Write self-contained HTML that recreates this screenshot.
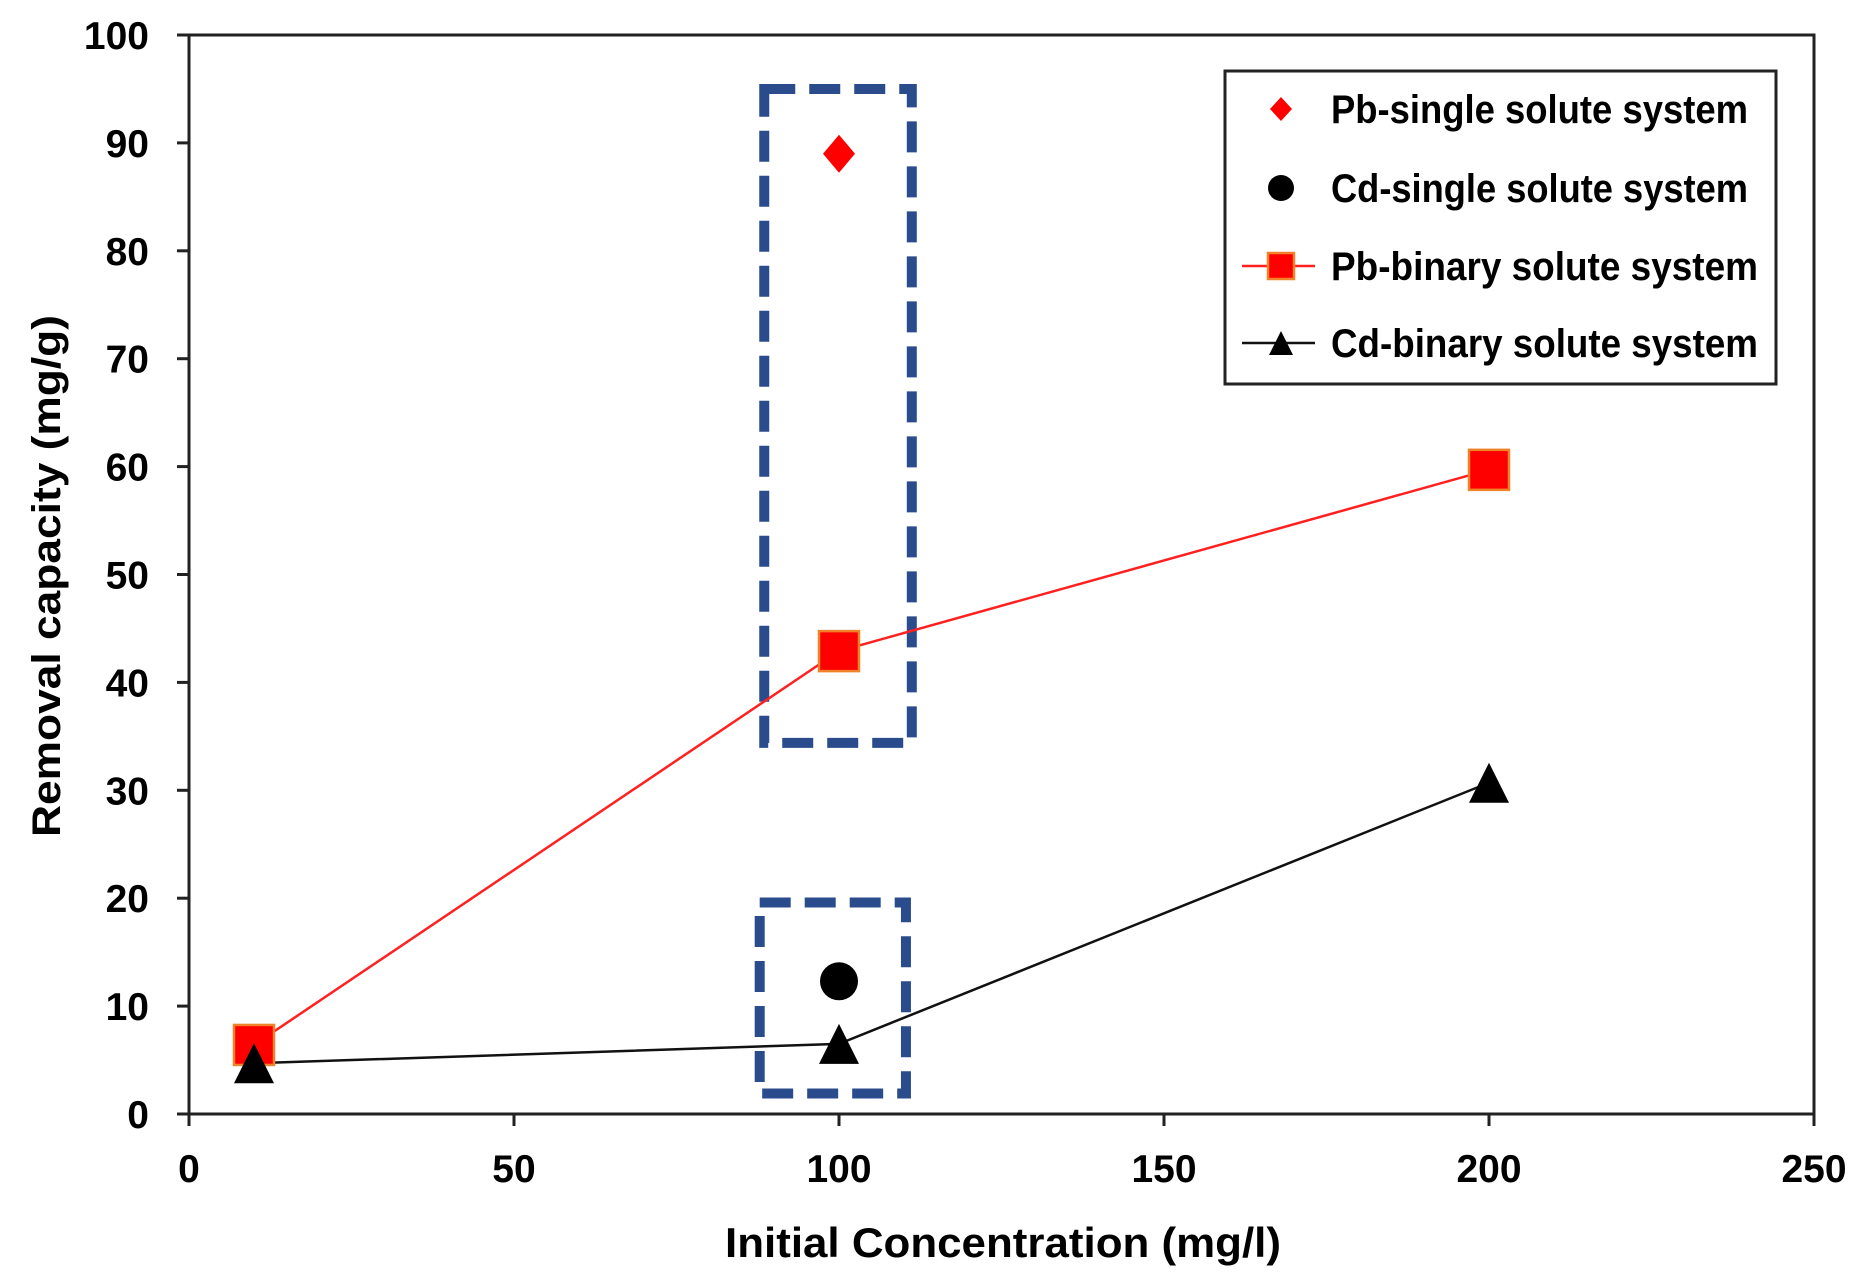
<!DOCTYPE html>
<html><head><meta charset="utf-8"><style>
html,body{margin:0;padding:0;background:#fff;}
svg{display:block;font-family:"Liberation Sans",sans-serif;font-weight:bold;}
</style></head><body>
<svg id="chart" width="1863" height="1288" viewBox="0 0 1863 1288">
<g id="axes"></g>
<g id="boxes"></g>
<g id="series"></g>
<g id="legend"></g>
<text x="1003" y="1257" font-size="42" text-anchor="middle" textLength="556" lengthAdjust="spacingAndGlyphs">Initial Concentration (mg/l)</text>
<text transform="translate(60,576) rotate(-90)" font-size="40" text-anchor="middle" textLength="522" lengthAdjust="spacingAndGlyphs">Removal capacity  (mg/g)</text>
</svg>
<script>
const xTicks=[0,50,100,150,200,250];
const yTicks=[0,10,20,30,40,50,60,70,80,90,100];
const binX=[10,100,200];
const pbBinary=[6.4,42.9,59.7];
const cdBinary=[4.7,6.5,30.7];
const singleX=[100];
const pbSingle=[89];
const cdSingle=[12.3];
const boxXs=[[88.5,111.2],[87.8,110.3]];
const boxYs=[[95,34.4],[19.6,1.9]];
const legendLabels=["Pb-single solute system","Cd-single solute system","Pb-binary solute system","Cd-binary solute system"];

const NS="http://www.w3.org/2000/svg";
const L=189,R=1814,T=35,B=1114;
const sx=v=>L+(v-0)/(250-0)*(R-L);
const sy=v=>B-(v-0)/(100-0)*(B-T);
function mk(parent,tag,attrs){const e=document.createElementNS(NS,tag);for(const k in attrs)e.setAttribute(k,attrs[k]);parent.appendChild(e);return e;}
const axes=document.getElementById('axes');
let e=mk(axes,'rect',{x:L,y:T,width:R-L,height:B-T,fill:'none',stroke:'#222','stroke-width':3});


xTicks.forEach(v=>{
 let t=mk(axes,'line',{x1:sx(v),x2:sx(v),y1:B,y2:B+12,stroke:'#222','stroke-width':3});
 
 
 let l=mk(axes,'text',{x:sx(v),y:1182,'font-size':39,'text-anchor':'middle'});l.textContent=v;
 
 
});
yTicks.forEach(v=>{
 let t=mk(axes,'line',{x1:L-12,x2:L,y1:sy(v),y2:sy(v),stroke:'#222','stroke-width':3});
 
 
 let l=mk(axes,'text',{x:149,y:sy(v)+14,'font-size':39,'text-anchor':'end'});l.textContent=v;
 
 
});
const boxes=document.getElementById('boxes');
boxXs.forEach((bx,i)=>{
 let r=mk(boxes,'rect',{x:sx(bx[0]),y:sy(boxYs[i][0]),width:sx(bx[1])-sx(bx[0]),height:sy(boxYs[i][1])-sy(boxYs[i][0]),fill:'none',stroke:'#2B4C8C','stroke-width':10,'stroke-dasharray':'31 14'});
 
 
});
const ser=document.getElementById('series');
function line(xs,ys,color,name){
 let p=mk(ser,'polyline',{points:xs.map((x,i)=>sx(x)+','+sy(ys[i])).join(' '),fill:'none',stroke:color,'stroke-width':2.5});
 
 
}
function square(g,cx,cy,s){return mk(g,'rect',{x:cx-s/2,y:cy-s/2,width:s,height:s,fill:'#ff0000',stroke:'#f0822a','stroke-width':2.5});}
function tri(g,cx,cy,s){return mk(g,'polygon',{points:`${cx},${cy-s/2} ${cx-s/2},${cy+s/2} ${cx+s/2},${cy+s/2}`,fill:'#000'});}
function diamond(g,cx,cy,w,h){return mk(g,'polygon',{points:`${cx},${cy-h/2} ${cx+w/2},${cy} ${cx},${cy+h/2} ${cx-w/2},${cy}`,fill:'#ff0000'});}
line(binX,pbBinary,'#ff2020','pb-binary-line');
line(binX,cdBinary,'#111','cd-binary-line');
binX.forEach((x,i)=>{
 let m=square(ser,sx(x),sy(pbBinary[i]),40);
 
 
});
binX.forEach((x,i)=>{
 let m=tri(ser,sx(x),sy(cdBinary[i]),40);
 
 
});
singleX.forEach((x,i)=>{
 let m=diamond(ser,sx(x),sy(pbSingle[i]),32,38);
 
 
 let c=mk(ser,'circle',{cx:sx(x),cy:sy(cdSingle[i]),r:19,fill:'#000'});
 
 
});
const lg=document.getElementById('legend');
let lb=mk(lg,'rect',{x:1225,y:71,width:551,height:313,fill:'#fff',stroke:'#222','stroke-width':3});


const ly=[109,188,266,343];
const lw=[417,417,427,427];
diamond(lg,1281,ly[0],22,24);
mk(lg,'circle',{cx:1281,cy:ly[1],r:13,fill:'#000'});
mk(lg,'line',{x1:1242,x2:1315,y1:ly[2],y2:ly[2],stroke:'#ff2020','stroke-width':2.5});
square(lg,1281,ly[2],26);
mk(lg,'line',{x1:1242,x2:1315,y1:ly[3],y2:ly[3],stroke:'#111','stroke-width':2.5});
tri(lg,1281,ly[3],24);
legendLabels.forEach((s,i)=>{
 let t=mk(lg,'text',{x:1331,y:ly[i]+14,'font-size':40,textLength:lw[i],lengthAdjust:'spacingAndGlyphs'});t.textContent=s;
 
 
});
</script>
</body></html>
